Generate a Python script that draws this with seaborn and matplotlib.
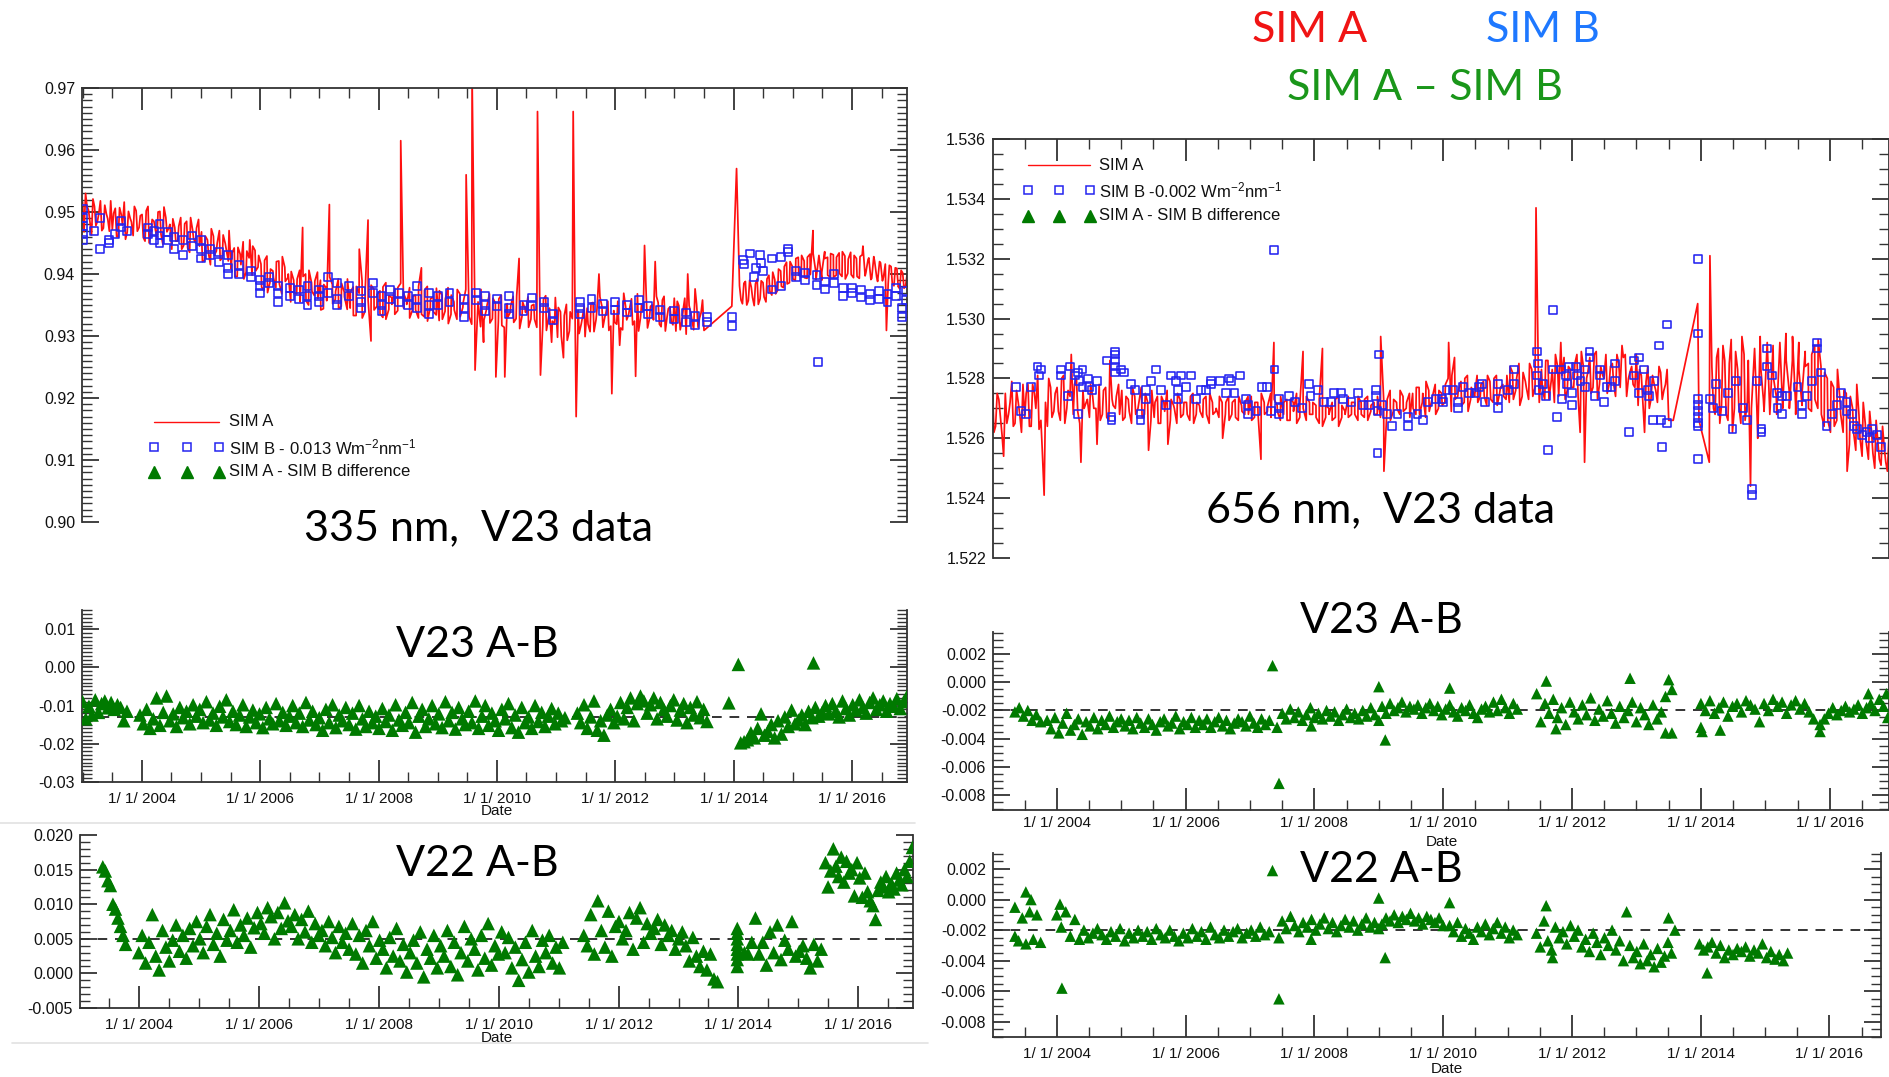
import numpy as np
import matplotlib
matplotlib.use("Agg")
import matplotlib.pyplot as plt
import seaborn as sns
from matplotlib.lines import Line2D
from matplotlib.ticker import MultipleLocator, FixedLocator, FuncFormatter

# ---------------------------------------------------------------- data
YEAR_TICKS = [2004, 2006, 2008, 2010, 2012, 2014, 2016]

# SIM A 335 nm (red line): two interleaved sets of readings per segment
sima_335_seg1 = [  # 2003.00 - 2013.50
    .9516, .9530, .9503, .9463, .9509, .9485, .9518, .9474, .9497, .9469,
    .9472, .9506, .9460, .9496, .9516, .9467, .9490, .9462, .9502, .9475,
    .9496, .9453, .9509, .9466, .9485, .9458, .9501, .9448, .9491, .9474,
    .9440, .9475, .9453, .9491, .9446, .9485, .9435, .9471, .9450, .9488,
    .9468, .9422, .9455, .9415, .9461, .9437, .9470, .9426, .9449, .9421,
    .9408, .9442, .9396, .9432, .9452, .9403, .9426, .9398, .9438, .9411,
    .9416, .9373, .9429, .9386, .9405, .9378, .9421, .9368, .9411, .9394,
    .9355, .9390, .9368, .9406, .9475, .9400, .9350, .9386, .9365, .9403,
    .9390, .9344, .9377, .9512, .9383, .9359, .9392, .9348, .9371, .9343,
    .9345, .9379, .9333, .9369, .9389, .9340, .9487, .9292, .9375, .9348,
    .9373, .9330, .9386, .9343, .9362, .9335, .9378, .9615, .9368, .9351,
    .9329, .9364, .9342, .9380, .9335, .9374, .9324, .9360, .9339, .9377,
    .9373, .9327, .9360, .9320, .9366, .9342, .9375, .9331, .9354, .9560,
    .9331, .9720, .9245, .9355, .9375, .9326, .9349, .9321, .9361, .9234,
    .9360, .9317, .9234, .9330, .9349, .9322, .9365, .9312, .9355, .9338,
    .9314, .9349, .9327, .9662, .9237, .9359, .9309, .9345, .9324, .9362,
    .9346, .9300, .9333, .9293, .9339, .9662, .9170, .9304, .9327, .9299,
    .9319, .9353, .9307, .9343, .9363, .9314, .9337, .9309, .9207, .9322,
    .9356, .9313, .9369, .9326, .9345, .9318, .9235, .9308, .9351, .9446,
    .9313, .9348, .9326, .9364, .9319, .9358, .9308, .9344, .9323, .9361,
    .9356, .9310, .9343, .9303, .9349, .9325, .9376, .9314, .9337, .9309,
]
sima_335_seg1b = [  # 2003.025 - 2013.475 (interleaved readings)
    .9468, .9509, .9483, .9521, .9478, .9498, .9470, .9511, .9489, .9518,
    .9498, .9460, .9507, .9479, .9456, .9501, .9484, .9509, .9469, .9494,
    .9459, .9502, .9450, .9488, .9474, .9500, .9464, .9508, .9468, .9480,
    .9489, .9453, .9477, .9440, .9481, .9442, .9491, .9457, .9474, .9445,
    .9420, .9461, .9435, .9473, .9430, .9450, .9422, .9463, .9441, .9470,
    .9434, .9396, .9443, .9415, .9392, .9437, .9455, .9445, .9405, .9430,
    .9379, .9422, .9370, .9408, .9394, .9420, .9384, .9428, .9388, .9400,
    .9404, .9368, .9392, .9355, .9396, .9357, .9406, .9372, .9389, .9360,
    .9342, .9383, .9357, .9395, .9352, .9372, .9344, .9385, .9363, .9392,
    .9371, .9333, .9380, .9440, .9329, .9374, .9357, .9382, .9342, .9367,
    .9336, .9379, .9327, .9365, .9351, .9377, .9341, .9385, .9345, .9357,
    .9378, .9342, .9366, .9329, .9410, .9331, .9380, .9346, .9363, .9334,
    .9325, .9366, .9340, .9378, .9335, .9355, .9327, .9368, .9346, .9375,
    .9357, .9319, .9366, .9338, .9315, .9290, .9343, .9368, .9328, .9353,
    .9323, .9366, .9314, .9352, .9338, .9364, .9328, .9425, .9332, .9344,
    .9363, .9327, .9351, .9314, .9355, .9316, .9365, .9331, .9290, .9319,
    .9298, .9339, .9265, .9351, .9308, .9328, .9300, .9341, .9319, .9348,
    .9345, .9307, .9354, .9326, .9400, .9348, .9331, .9356, .9316, .9341,
    .9319, .9285, .9310, .9348, .9334, .9360, .9324, .9368, .9328, .9340,
    .9362, .9326, .9350, .9420, .9354, .9315, .9364, .9330, .9347, .9318,
    .9308, .9349, .9323, .9361, .9400, .9338, .9310, .9351, .9329, .9358,
]
sima_335_jump_yr = [2013.97, 2014.05]
sima_335_jump = [0.9348, 0.9570]
sima_335_seg2 = [  # 2014.10 - 2016.93
    .9381, .9352, .9388, .9357, .9379, .9349, .9392, .9360, .9386, .9355,
    .9398, .9366, .9391, .9374, .9405, .9378, .9419, .9386, .9412, .9390,
    .9427, .9396, .9421, .9393, .9432, .9470, .9402, .9428, .9390, .9425,
    .9398, .9433, .9395, .9427, .9401, .9436, .9392, .9424, .9399, .9430,
    .9396, .9428, .9445, .9402, .9426, .9393, .9420, .9388, .9418, .9395,
    .9309, .9414, .9384, .9410, .9380, .9406, .9377, .9398,
]
sima_335_seg2b = [  # 2014.125 - 2016.905
    .9358, .9385, .9350, .9390, .9362, .9384, .9351, .9389, .9363, .9392,
    .9372, .9403, .9368, .9408, .9380, .9412, .9384, .9420, .9392, .9425,
    .9398, .9430, .9394, .9427, .9399, .9433, .9391, .9430, .9403, .9436,
    .9427, .9395, .9431, .9398, .9434, .9396, .9429, .9401, .9435, .9394,
    .9425, .9393, .9431, .9397, .9423, .9391, .9428, .9395, .9420, .9389,
    .9416, .9385, .9412, .9381, .9409, .9376, .9402, .9380,
]

# SIM B 335 nm (blue squares), (year, value)
simb_335 = [
    (2003.00, .9505), (2003.00, .9490), (2003.00, .9478), (2003.00, .9465), (2003.00, .9455),
    (2003.20, .9470), (2003.30, .9490), (2003.30, .9440), (2003.45, .9455), (2003.45, .9450),
    (2003.55, .9465), (2003.65, .9485), (2003.65, .9475), (2003.75, .9470),
    (2004.10, .9475), (2004.10, .9465), (2004.20, .9470), (2004.20, .9455), (2004.30, .9480),
    (2004.30, .9462), (2004.30, .9450), (2004.45, .9468), (2004.45, .9455), (2004.55, .9460),
    (2004.55, .9440), (2004.70, .9455), (2004.70, .9430), (2004.85, .9462), (2004.85, .9445),
    (2005.00, .9455), (2005.00, .9440), (2005.00, .9425), (2005.15, .9440), (2005.15, .9430),
    (2005.30, .9435), (2005.30, .9420), (2005.45, .9430), (2005.45, .9410), (2005.45, .9400),
    (2005.65, .9415), (2005.65, .9400), (2005.85, .9405), (2005.85, .9395),
    (2006.00, .9390), (2006.00, .9380), (2006.00, .9370), (2006.15, .9395), (2006.15, .9385),
    (2006.30, .9380), (2006.30, .9370), (2006.30, .9355), (2006.50, .9378), (2006.50, .9365),
    (2006.65, .9375), (2006.65, .9360), (2006.80, .9380), (2006.80, .9365), (2006.80, .9350),
    (2007.00, .9375), (2007.00, .9365), (2007.00, .9355), (2007.15, .9395), (2007.15, .9370),
    (2007.30, .9385), (2007.30, .9360), (2007.30, .9350), (2007.50, .9380), (2007.50, .9365),
    (2007.70, .9372), (2007.70, .9355), (2007.70, .9345), (2007.90, .9385), (2007.90, .9370),
    (2008.05, .9365), (2008.05, .9350), (2008.05, .9340), (2008.20, .9375), (2008.20, .9360),
    (2008.35, .9370), (2008.35, .9355), (2008.50, .9365), (2008.50, .9350),
    (2008.65, .9380), (2008.65, .9360), (2008.65, .9345), (2008.85, .9370), (2008.85, .9350),
    (2008.85, .9335), (2009.00, .9365), (2009.00, .9350), (2009.20, .9370), (2009.20, .9355),
    (2009.45, .9360), (2009.45, .9345), (2009.45, .9330), (2009.65, .9370), (2009.65, .9358),
    (2009.80, .9365), (2009.80, .9350), (2009.80, .9340), (2010.00, .9360), (2010.00, .9348),
    (2010.20, .9365), (2010.20, .9345), (2010.20, .9335), (2010.45, .9350), (2010.45, .9340),
    (2010.60, .9362), (2010.60, .9348), (2010.80, .9355), (2010.80, .9345), (2010.95, .9335),
    (2010.95, .9325), (2011.40, .9355), (2011.40, .9345), (2011.40, .9335), (2011.60, .9360),
    (2011.60, .9345), (2011.80, .9352), (2011.80, .9340), (2012.00, .9355), (2012.00, .9342),
    (2012.20, .9350), (2012.20, .9338), (2012.40, .9358), (2012.40, .9345), (2012.55, .9348),
    (2012.55, .9335), (2012.75, .9342), (2012.75, .9330), (2013.00, .9340), (2013.00, .9328),
    (2013.20, .9338), (2013.20, .9322), (2013.35, .9332), (2013.35, .9318), (2013.55, .9330),
    (2013.55, .9322), (2013.98, .9330), (2013.98, .9316),
    (2014.16, .9423), (2014.18, .9416), (2014.28, .9433), (2014.35, .9395), (2014.38, .9410),
    (2014.45, .9430), (2014.47, .9418), (2014.50, .9405), (2014.65, .9425), (2014.65, .9375),
    (2014.80, .9428), (2014.80, .9380), (2014.92, .9440), (2014.92, .9435), (2015.05, .9405),
    (2015.05, .9395), (2015.20, .9402), (2015.20, .9390), (2015.42, .9258), (2015.40, .9398),
    (2015.40, .9382), (2015.55, .9388), (2015.55, .9375), (2015.70, .9400), (2015.70, .9385),
    (2015.85, .9365), (2015.85, .9378), (2016.00, .9378), (2016.00, .9370), (2016.15, .9362),
    (2016.15, .9375), (2016.30, .9368), (2016.30, .9358), (2016.45, .9372), (2016.45, .9360),
    (2016.60, .9355), (2016.60, .9368), (2016.75, .9365), (2016.75, .9378), (2016.85, .9330),
    (2016.85, .9345), (2016.92, .9372), (2016.92, .9358),
]

# SIM A 656 nm (red line)
sima_656_seg1 = [  # 2003.00 - 2013.50
    1.5278, 1.5264, 1.5273, 1.5261, 1.5275, 1.5268, 1.5279, 1.5265, 1.5272, 1.5262,
    1.5267, 1.5278, 1.5264, 1.5275, 1.5281, 1.5266, 1.5241, 1.5264, 1.5277, 1.5269,
    1.5277, 1.5266, 1.5281, 1.5270, 1.5274, 1.5268, 1.5280, 1.5265, 1.5276, 1.5272,
    1.5267, 1.5274, 1.5270, 1.5278, 1.5268, 1.5277, 1.5266, 1.5273, 1.5270, 1.5278,
    1.5276, 1.5267, 1.5273, 1.5265, 1.5274, 1.5270, 1.5277, 1.5268, 1.5272, 1.5266,
    1.5267, 1.5274, 1.5265, 1.5272, 1.5276, 1.5266, 1.5271, 1.5265, 1.5273, 1.5268,
    1.5272, 1.5266, 1.5275, 1.5268, 1.5271, 1.5267, 1.5274, 1.5265, 1.5272, 1.5269,
    1.5267, 1.5272, 1.5268, 1.5274, 1.5268, 1.5273, 1.5266, 1.5271, 1.5268, 1.5274,
    1.5274, 1.5267, 1.5272, 1.5253, 1.5272, 1.5269, 1.5275, 1.5292, 1.5271, 1.5266,
    1.5268, 1.5273, 1.5266, 1.5272, 1.5275, 1.5267, 1.5289, 1.5266, 1.5272, 1.5268,
    1.5271, 1.5265, 1.5290, 1.5267, 1.5270, 1.5266, 1.5273, 1.5264, 1.5271, 1.5268,
    1.5267, 1.5272, 1.5268, 1.5274, 1.5268, 1.5273, 1.5266, 1.5271, 1.5268, 1.5274,
    1.5294, 1.5249, 1.5273, 1.5266, 1.5273, 1.5270, 1.5276, 1.5269, 1.5272, 1.5267,
    1.5270, 1.5277, 1.5268, 1.5275, 1.5279, 1.5269, 1.5274, 1.5268, 1.5276, 1.5271,
    1.5278, 1.5292, 1.5281, 1.5273, 1.5276, 1.5271, 1.5280, 1.5269, 1.5277, 1.5274,
    1.5272, 1.5278, 1.5274, 1.5281, 1.5273, 1.5280, 1.5271, 1.5277, 1.5274, 1.5281,
    1.5284, 1.5273, 1.5280, 1.5271, 1.5282, 1.5277, 1.5285, 1.5274, 1.5337, 1.5272,
    1.5276, 1.5286, 1.5273, 1.5283, 1.5288, 1.5274, 1.5281, 1.5273, 1.5284, 1.5277,
    1.5285, 1.5274, 1.5289, 1.5252, 1.5282, 1.5275, 1.5288, 1.5273, 1.5284, 1.5280,
    1.5275, 1.5284, 1.5278, 1.5288, 1.5277, 1.5287, 1.5274, 1.5282, 1.5278, 1.5288,
    1.5283, 1.5272, 1.5279, 1.5270, 1.5281, 1.5276, 1.5284, 1.5273, 1.5278, 1.5266,
]
sima_656_seg1b = [  # 2003.025 - 2013.475 (interleaved readings)
    1.5262, 1.5275, 1.5267, 1.5254, 1.5265, 1.5272, 1.5264, 1.5276, 1.5268, 1.5278,
    1.5275, 1.5264, 1.5278, 1.5270, 1.5263, 1.5256, 1.5272, 1.5280, 1.5267, 1.5275,
    1.5269, 1.5280, 1.5265, 1.5276, 1.5288, 1.5278, 1.5269, 1.5252, 1.5270, 1.5273,
    1.5278, 1.5270, 1.5258, 1.5266, 1.5276, 1.5267, 1.5286, 1.5271, 1.5274, 1.5268,
    1.5266, 1.5274, 1.5269, 1.5277, 1.5268, 1.5272, 1.5267, 1.5275, 1.5256, 1.5276,
    1.5272, 1.5265, 1.5274, 1.5269, 1.5258, 1.5273, 1.5270, 1.5275, 1.5267, 1.5272,
    1.5268, 1.5274, 1.5265, 1.5272, 1.5269, 1.5273, 1.5268, 1.5275, 1.5268, 1.5270,
    1.5274, 1.5260, 1.5272, 1.5266, 1.5272, 1.5267, 1.5274, 1.5269, 1.5272, 1.5268,
    1.5266, 1.5272, 1.5268, 1.5275, 1.5268, 1.5271, 1.5267, 1.5273, 1.5269, 1.5274,
    1.5272, 1.5266, 1.5273, 1.5269, 1.5265, 1.5272, 1.5270, 1.5274, 1.5268, 1.5272,
    1.5267, 1.5273, 1.5264, 1.5271, 1.5268, 1.5272, 1.5267, 1.5274, 1.5267, 1.5269,
    1.5274, 1.5268, 1.5272, 1.5266, 1.5272, 1.5267, 1.5274, 1.5269, 1.5272, 1.5268,
    1.5267, 1.5273, 1.5269, 1.5276, 1.5269, 1.5272, 1.5268, 1.5274, 1.5270, 1.5275,
    1.5275, 1.5268, 1.5277, 1.5272, 1.5267, 1.5276, 1.5273, 1.5278, 1.5270, 1.5275,
    1.5272, 1.5280, 1.5269, 1.5287, 1.5274, 1.5279, 1.5272, 1.5281, 1.5273, 1.5275,
    1.5281, 1.5274, 1.5279, 1.5271, 1.5279, 1.5272, 1.5281, 1.5275, 1.5278, 1.5273,
    1.5272, 1.5282, 1.5276, 1.5285, 1.5274, 1.5279, 1.5273, 1.5283, 1.5277, 1.5284,
    1.5283, 1.5273, 1.5286, 1.5279, 1.5272, 1.5284, 1.5292, 1.5287, 1.5276, 1.5283,
    1.5277, 1.5288, 1.5262, 1.5284, 1.5280, 1.5287, 1.5277, 1.5289, 1.5278, 1.5281,
    1.5288, 1.5278, 1.5285, 1.5274, 1.5285, 1.5291, 1.5288, 1.5280, 1.5284, 1.5277,
    1.5271, 1.5281, 1.5262, 1.5284, 1.5273, 1.5278, 1.5272, 1.5282, 1.5276, 1.5283,
]
sima_656_jump_yr = [2013.57, 2013.95, 2013.97, 2014.13, 2014.14]
sima_656_jump = [1.5266, 1.5305, 1.5266, 1.5252, 1.5321]
sima_656_seg2 = [  # 2014.17 - 2016.92
    1.5284, 1.5268, 1.5290, 1.5271, 1.5286, 1.5266, 1.5293, 1.5270, 1.5283, 1.5265,
    1.5288, 1.5272, 1.5244, 1.5285, 1.5269, 1.5294, 1.5273, 1.5287, 1.5268, 1.5291,
    1.5274, 1.5289, 1.5270, 1.5295, 1.5276, 1.5286, 1.5271, 1.5292, 1.5275, 1.5284,
    1.5270, 1.5288, 1.5273, 1.5293, 1.5268, 1.5282, 1.5266, 1.5279, 1.5264, 1.5283,
    1.5268, 1.5276, 1.5249, 1.5274, 1.5262, 1.5278, 1.5260, 1.5272, 1.5258, 1.5269,
    1.5255, 1.5266, 1.5253, 1.5264, 1.5252, 1.5261,
]
sima_656_seg2b = [  # 2014.195 - 2016.895
    1.5270, 1.5287, 1.5265, 1.5291, 1.5268, 1.5285, 1.5262, 1.5289, 1.5271, 1.5294,
    1.5266, 1.5286, 1.5270, 1.5290, 1.5260, 1.5283, 1.5269, 1.5292, 1.5272, 1.5280,
    1.5268, 1.5292, 1.5273, 1.5286, 1.5270, 1.5294, 1.5268, 1.5283, 1.5271, 1.5289,
    1.5285, 1.5269, 1.5291, 1.5270, 1.5284, 1.5264, 1.5280, 1.5262, 1.5277, 1.5266,
    1.5273, 1.5262, 1.5275, 1.5258, 1.5270, 1.5256, 1.5268, 1.5254, 1.5265, 1.5253,
    1.5262, 1.5250, 1.5259, 1.5251, 1.5257, 1.5249,
]

# SIM B 656 nm (blue squares)
simb_656 = [
    (2003.37, 1.5277), (2003.45, 1.5269), (2003.52, 1.5268), (2003.60, 1.5277), (2003.70, 1.5284),
    (2003.72, 1.5281), (2003.75, 1.5283), (2004.07, 1.5283), (2004.07, 1.5281), (2004.20, 1.5284),
    (2004.18, 1.5274), (2004.28, 1.5281), (2004.33, 1.5282), (2004.35, 1.5279), (2004.40, 1.5283),
    (2004.40, 1.5277), (2004.48, 1.5280), (2004.50, 1.5277), (2004.55, 1.5276), (2004.63, 1.5279),
    (2004.33, 1.5268), (2004.78, 1.5286), (2004.90, 1.5289), (2004.90, 1.5288), (2004.90, 1.5286),
    (2004.90, 1.5284), (2004.90, 1.5282), (2005.00, 1.5283), (2005.05, 1.5282), (2005.15, 1.5278),
    (2004.85, 1.5267), (2004.85, 1.5266), (2005.22, 1.5276), (2005.30, 1.5268), (2005.30, 1.5266),
    (2005.38, 1.5276), (2005.38, 1.5273), (2005.46, 1.5279), (2005.54, 1.5283), (2005.62, 1.5276),
    (2005.70, 1.5271), (2005.77, 1.5281), (2005.93, 1.5281), (2006.08, 1.5281), (2005.85, 1.5279),
    (2005.88, 1.5276), (2005.88, 1.5273), (2006.00, 1.5277), (2006.16, 1.5273), (2006.24, 1.5276),
    (2006.32, 1.5276), (2006.40, 1.5279), (2006.40, 1.5278), (2006.53, 1.5279), (2006.63, 1.5275),
    (2006.68, 1.5280), (2006.71, 1.5279), (2006.84, 1.5281), (2006.76, 1.5275), (2006.94, 1.5273),
    (2006.97, 1.5271), (2006.97, 1.5268), (2007.10, 1.5269), (2007.18, 1.5277), (2007.26, 1.5277),
    (2007.33, 1.5269), (2007.37, 1.5323), (2007.38, 1.5283), (2007.45, 1.5273), (2007.45, 1.5270),
    (2007.45, 1.5268), (2007.60, 1.5274), (2007.70, 1.5272), (2007.81, 1.5270), (2007.92, 1.5278),
    (2007.94, 1.5274), (2008.05, 1.5276), (2008.15, 1.5272), (2008.26, 1.5272), (2008.31, 1.5275),
    (2008.41, 1.5275), (2008.44, 1.5273), (2008.57, 1.5272), (2008.67, 1.5275), (2008.75, 1.5271),
    (2008.85, 1.5271), (2008.95, 1.5276), (2008.95, 1.5274), (2008.98, 1.5269), (2009.00, 1.5288),
    (2009.05, 1.5271), (2008.98, 1.5255), (2009.13, 1.5268), (2009.20, 1.5264), (2009.29, 1.5268),
    (2009.45, 1.5267), (2009.45, 1.5264), (2009.60, 1.5268), (2009.68, 1.5266), (2009.76, 1.5272),
    (2009.89, 1.5273), (2009.98, 1.5273), (2010.00, 1.5272), (2010.05, 1.5276), (2010.15, 1.5276),
    (2010.23, 1.5272), (2010.23, 1.5270), (2010.30, 1.5277), (2010.40, 1.5275), (2010.50, 1.5275),
    (2010.55, 1.5277), (2010.60, 1.5278), (2010.65, 1.5272), (2010.85, 1.5278), (2010.85, 1.5273),
    (2010.85, 1.5270), (2011.00, 1.5276), (2011.10, 1.5283), (2011.10, 1.5278), (2011.45, 1.5289),
    (2011.47, 1.5285), (2011.45, 1.5281), (2011.48, 1.5276), (2011.55, 1.5278), (2011.60, 1.5274),
    (2011.62, 1.5256), (2011.70, 1.5303), (2011.70, 1.5283), (2011.77, 1.5267), (2011.83, 1.5283),
    (2011.85, 1.5273), (2011.90, 1.5281), (2011.92, 1.5278), (2011.95, 1.5284), (2012.00, 1.5275),
    (2012.00, 1.5271), (2012.06, 1.5284), (2012.08, 1.5281), (2012.13, 1.5279), (2012.20, 1.5283),
    (2012.20, 1.5277), (2012.27, 1.5289), (2012.27, 1.5287), (2012.35, 1.5274), (2012.43, 1.5283),
    (2012.43, 1.5281), (2012.50, 1.5272), (2012.54, 1.5277), (2012.60, 1.5277), (2012.67, 1.5285),
    (2012.67, 1.5279), (2012.88, 1.5262), (2012.96, 1.5286), (2012.96, 1.5281), (2013.04, 1.5287),
    (2013.04, 1.5275), (2013.12, 1.5283), (2013.17, 1.5276), (2013.20, 1.5274), (2013.27, 1.5279),
    (2013.26, 1.5266), (2013.35, 1.5291), (2013.38, 1.5266), (2013.39, 1.5257), (2013.47, 1.5298),
    (2013.47, 1.5265), (2013.96, 1.5320), (2013.96, 1.5295), (2013.96, 1.5273), (2013.96, 1.5271),
    (2013.96, 1.5269), (2013.96, 1.5267), (2013.96, 1.5265), (2013.96, 1.5264), (2013.96, 1.5253),
    (2014.14, 1.5273), (2014.19, 1.5270), (2014.24, 1.5278), (2014.33, 1.5269), (2014.42, 1.5275),
    (2014.49, 1.5263), (2014.55, 1.5279), (2014.65, 1.5270), (2014.72, 1.5266), (2014.79, 1.5243),
    (2014.79, 1.5241), (2014.87, 1.5279), (2014.94, 1.5263), (2014.94, 1.5262), (2015.03, 1.5290),
    (2015.03, 1.5284), (2015.10, 1.5281), (2015.18, 1.5275), (2015.19, 1.5270), (2015.26, 1.5274),
    (2015.26, 1.5268), (2015.34, 1.5274), (2015.50, 1.5277), (2015.57, 1.5271), (2015.57, 1.5268),
    (2015.65, 1.5274), (2015.72, 1.5279), (2015.80, 1.5292), (2015.80, 1.5290), (2015.87, 1.5282),
    (2015.95, 1.5264), (2016.03, 1.5268), (2016.11, 1.5271), (2016.18, 1.5275), (2016.26, 1.5272),
    (2016.26, 1.5269), (2016.35, 1.5268), (2016.37, 1.5264), (2016.42, 1.5263), (2016.50, 1.5261),
    (2016.58, 1.5262), (2016.62, 1.5260), (2016.66, 1.5263), (2016.73, 1.5261), (2016.80, 1.5257),
]

# V23 A-B, 335 nm (green triangles) - segments with start/end years
v23_335_a = [-0.0090, -0.0135, -0.0102, -0.0125, -0.0085, -0.0118, -0.0095, -0.0088,
             -0.0106, -0.0092, -0.0110, -0.0098, -0.0105, -0.0140, -0.0115]          # 2003.00-2003.75
v23_335_b = [-0.0125, -0.0148, -0.0110, -0.0160, -0.0135, -0.0080, -0.0152, -0.0118, -0.0075,
             -0.0140, -0.0122, -0.0155, -0.0105, -0.0132, -0.0115, -0.0148, -0.0098, -0.0128,
             -0.0110, -0.0145, -0.0090, -0.0138, -0.0120, -0.0152, -0.0102, -0.0130, -0.0085,
             -0.0142, -0.0115, -0.0150, -0.0125, -0.0098, -0.0155, -0.0130, -0.0112, -0.0145,
             -0.0122, -0.0158, -0.0105, -0.0135, -0.0148, -0.0095, -0.0140, -0.0118, -0.0152,
             -0.0128, -0.0100, -0.0145, -0.0120, -0.0155, -0.0092, -0.0138, -0.0115, -0.0150,
             -0.0132, -0.0165, -0.0110, -0.0145, -0.0098, -0.0158, -0.0125, -0.0140, -0.0105,
             -0.0150, -0.0120, -0.0162, -0.0100, -0.0135, -0.0155, -0.0115, -0.0145, -0.0128,
             -0.0160, -0.0108, -0.0142, -0.0125, -0.0165, -0.0098, -0.0138, -0.0152, -0.0118,
             -0.0145, -0.0092, -0.0170, -0.0128, -0.0110, -0.0155, -0.0135, -0.0100, -0.0148,
             -0.0122, -0.0158, -0.0090, -0.0140, -0.0118, -0.0162, -0.0105, -0.0135, -0.0150,
             -0.0115, -0.0145, -0.0088, -0.0160, -0.0128, -0.0100, -0.0152, -0.0120, -0.0140,
             -0.0165, -0.0110, -0.0135, -0.0095, -0.0158, -0.0125, -0.0170, -0.0105, -0.0145,
             -0.0130, -0.0160, -0.0100, -0.0142, -0.0118, -0.0155, -0.0128, -0.0108, -0.0148,
             -0.0120, -0.0140, -0.0132]                                               # 2003.97-2011.15
v23_335_c = [-0.0120, -0.0145, -0.0098, -0.0160, -0.0130, -0.0088, -0.0165, -0.0140, -0.0178, -0.0125,
             -0.0110, -0.0145, -0.0128, -0.0092, -0.0135, -0.0105, -0.0080, -0.0140, -0.0095, -0.0075,
             -0.0088, -0.0120, -0.0098, -0.0080, -0.0135, -0.0092, -0.0110, -0.0128, -0.0100, -0.0085,
             -0.0138, -0.0112, -0.0095, -0.0145, -0.0105, -0.0125, -0.0090, -0.0132, -0.0110, -0.0142]  # 2011.36-2013.55
v23_335_d = [-0.0198, -0.0195, -0.0190, -0.0172, -0.0185, -0.0160, -0.0122, -0.0178,
             -0.0168, -0.0150, -0.0185, -0.0140, -0.0175, -0.0130, -0.0155, -0.0112, -0.0148,
             -0.0138, -0.0125, -0.0150, -0.0115, -0.0132, -0.0105, -0.0128, -0.0118, -0.0100,
             -0.0122, -0.0095, -0.0115, -0.0130, -0.0088, -0.0108, -0.0125, -0.0098, -0.0112,
             -0.0085, -0.0105, -0.0120, -0.0092, -0.0080, -0.0110, -0.0098, -0.0088, -0.0115,
             -0.0095, -0.0102, -0.0082, -0.0108, -0.0090, -0.0075]                    # 2014.12-2016.93
v23_335_single = [(2013.92, -0.0093), (2014.08, 0.0008), (2015.35, 0.0012)]

# V22 A-B, 335 nm
v22_335_a = [0.0154, 0.0148, 0.0134, 0.0127, 0.0100, 0.0093, 0.0080, 0.0068, 0.0055, 0.0042]  # 2003.40-2003.78
v22_335_b = [0.0030, 0.0055, 0.0015, 0.0045, 0.0085, 0.0025, 0.0005, 0.0062, 0.0038,
             0.0018, 0.0048, 0.0070, 0.0032, 0.0055, 0.0022, 0.0065, 0.0040, 0.0075,
             0.0050, 0.0030, 0.0068, 0.0085, 0.0042, 0.0058, 0.0025, 0.0078, 0.0048,
             0.0062, 0.0092, 0.0045, 0.0070, 0.0055, 0.0080, 0.0038, 0.0066, 0.0088,
             0.0072, 0.0058, 0.0095, 0.0082, 0.0050, 0.0088, 0.0065, 0.0102, 0.0076,
             0.0068, 0.0085, 0.0050, 0.0078, 0.0060, 0.0090, 0.0045, 0.0072, 0.0055,
             0.0062, 0.0040, 0.0075, 0.0052, 0.0030, 0.0068, 0.0045, 0.0058, 0.0035,
             0.0072, 0.0028, 0.0055, 0.0015, 0.0062, 0.0040, 0.0075, 0.0022, 0.0048,
             0.0035, 0.0008, 0.0052, 0.0025, 0.0065, 0.0018, 0.0042, 0.0002, 0.0030,
             0.0048, 0.0015, 0.0060, -0.0005, 0.0035, 0.0022, 0.0055, 0.0008, 0.0040,
             0.0025, 0.0062, 0.0010, 0.0045, -0.0002, 0.0030, 0.0068, 0.0018, 0.0050,
             0.0035, 0.0005, 0.0055, 0.0022, 0.0072, 0.0012, 0.0040, 0.0028, 0.0060,
             0.0030, 0.0052, 0.0008, 0.0038, -0.0010, 0.0020, 0.0045, 0.0002, 0.0062,
             0.0025, 0.0010, 0.0048, 0.0030, 0.0055, 0.0015, 0.0038, 0.0008, 0.0045]  # 2004.00-2011.07
v22_335_c = [0.0055, 0.0040, 0.0085, 0.0028, 0.0105, 0.0062, 0.0038, 0.0090, 0.0025, 0.0068,
             0.0075, 0.0050, 0.0062, 0.0088, 0.0035, 0.0080, 0.0095, 0.0045, 0.0072, 0.0058,
             0.0065, 0.0078, 0.0042, 0.0070, 0.0055, 0.0062, 0.0035, 0.0050, 0.0060,
             0.0040, 0.0018, 0.0052, 0.0025, 0.0010, 0.0032, 0.0005, 0.0028, -0.0008, -0.0012]  # 2011.42-2013.65
v22_335_stack = [0.0065, 0.0058, 0.0050, 0.0042, 0.0035, 0.0028, 0.0020, 0.0010]  # at 2013.98
v22_335_d = [0.0030, 0.0028, 0.0045, 0.0080, 0.0028, 0.0045, 0.0012, 0.0060, 0.0030, 0.0070,
             0.0020, 0.0048, 0.0035, 0.0075, 0.0025, 0.0032, 0.0040, 0.0022, 0.0008, 0.0042,
             0.0018, 0.0035]                                                             # 2014.10-2015.38
v22_335_e = [0.0160, 0.0125, 0.0148, 0.0180, 0.0155, 0.0140, 0.0168, 0.0132, 0.0162, 0.0145,
             0.0150, 0.0112, 0.0160, 0.0138, 0.0110, 0.0145, 0.0118, 0.0105, 0.0098, 0.0078,
             0.0120, 0.0132, 0.0125, 0.0140, 0.0118, 0.0130, 0.0122, 0.0145, 0.0135, 0.0128,
             0.0150, 0.0140, 0.0162, 0.0182]                                             # 2015.45-2016.90

# V23 A-B, 656 nm
v23_656_a = [-0.0021, -0.0018, -0.0024, -0.0020, -0.0027, -0.0023, -0.0028]   # 2003.35-2003.75
v23_656_b = [-0.0027, -0.0033, -0.0025, -0.0036, -0.0029, -0.0022, -0.0034, -0.0030, -0.0026, -0.0037,
             -0.0028, -0.0031, -0.0025, -0.0033, -0.0027, -0.0030, -0.0024, -0.0032, -0.0028, -0.0026,
             -0.0031, -0.0027, -0.0033, -0.0025, -0.0029, -0.0032, -0.0026, -0.0030, -0.0034, -0.0028,
             -0.0026, -0.0031, -0.0029, -0.0024, -0.0033, -0.0028, -0.0030, -0.0025, -0.0032, -0.0027,
             -0.0030, -0.0026, -0.0032, -0.0028, -0.0025, -0.0031, -0.0027, -0.0033, -0.0029, -0.0026,
             -0.0028, -0.0031, -0.0024, -0.0029, -0.0032, -0.0026, -0.0030, -0.0027]  # 2003.85-2007.30
v23_656_c = [-0.0022, -0.0026, -0.0019, -0.0025, -0.0021, -0.0027, -0.0023, -0.0018, -0.0025,
             -0.0022, -0.0026, -0.0020, -0.0024, -0.0021, -0.0027, -0.0023, -0.0019, -0.0025,
             -0.0022, -0.0026, -0.0020, -0.0024, -0.0018, -0.0023, -0.0027]               # 2007.50-2009.00
v23_656_d = [-0.0017, -0.0022, -0.0015, -0.0020, -0.0018, -0.0014, -0.0021, -0.0017, -0.0019,
             -0.0016, -0.0022, -0.0018, -0.0015, -0.0020, -0.0017, -0.0023, -0.0019, -0.0016,
             -0.0021, -0.0024, -0.0018, -0.0020, -0.0016, -0.0022, -0.0025, -0.0019, -0.0017,
             -0.0021, -0.0014, -0.0020, -0.0012, -0.0018, -0.0022, -0.0015, -0.0019]      # 2009.05-2011.15
v23_656_e = [-0.0008, -0.0028, -0.0015, -0.0022, -0.0012, -0.0025, -0.0018, -0.0030, -0.0014,
             -0.0021, -0.0026, -0.0016, -0.0023, -0.0011, -0.0027, -0.0019, -0.0024, -0.0013,
             -0.0022, -0.0029, -0.0017, -0.0025, -0.0020, -0.0014, -0.0028, -0.0018, -0.0023,
             -0.0030, -0.0016, -0.0026, -0.0021, -0.0010]                                # 2011.45-2013.45
v23_656_f = [-0.0015, -0.0020, -0.0013, -0.0022, -0.0018, -0.0014, -0.0024, -0.0017, -0.0015,
             -0.0021, -0.0013, -0.0016, -0.0019, -0.0028, -0.0015, -0.0020, -0.0012, -0.0017,
             -0.0014, -0.0022, -0.0016, -0.0013, -0.0019, -0.0015, -0.0021, -0.0026]     # 2014.00-2015.75
v23_656_g = [-0.0030, -0.0026, -0.0022, -0.0018, -0.0023, -0.0020, -0.0017, -0.0021, -0.0019,
             -0.0016, -0.0022, -0.0018, -0.0015, -0.0020, -0.0012, -0.0017, -0.0025]     # 2015.85-2016.90
v23_656_single = [(2007.35, 0.0012), (2007.42, -0.0032), (2007.45, -0.0072), (2007.95, -0.0031),
                  (2009.00, -0.0003), (2009.10, -0.0041), (2010.10, -0.0004), (2011.60, 0.0001),
                  (2011.75, -0.0033), (2012.90, 0.0003), (2013.50, 0.0002), (2013.55, -0.0005),
                  (2013.45, -0.0036), (2013.55, -0.0036), (2014.00, -0.0032), (2014.02, -0.0035),
                  (2014.30, -0.0034), (2015.85, -0.0035), (2016.60, -0.0008), (2016.88, -0.0008)]

# V22 A-B, 656 nm
v22_656_a = [-0.0024, -0.0027, -0.0012, -0.0029, -0.0008, -0.0026, -0.0010, -0.0028]  # 2003.35-2003.75
v22_656_b = [-0.0010, -0.0018, -0.0008, -0.0024, -0.0013, -0.0026, -0.0020, -0.0025, -0.0022, -0.0019,
             -0.0023, -0.0026, -0.0021, -0.0024, -0.0019, -0.0027, -0.0022, -0.0025, -0.0020,
             -0.0024, -0.0021, -0.0026, -0.0019, -0.0023, -0.0025, -0.0020, -0.0024, -0.0027,
             -0.0022, -0.0025, -0.0019, -0.0024, -0.0021, -0.0026, -0.0018, -0.0023, -0.0025, -0.0020,
             -0.0024, -0.0021, -0.0019, -0.0025, -0.0022, -0.0020, -0.0024, -0.0018, -0.0023, -0.0021]  # 2004.00-2007.30
v22_656_c = [-0.0014, -0.0019, -0.0011, -0.0017, -0.0021, -0.0015, -0.0018, -0.0013, -0.0020,
             -0.0016, -0.0012, -0.0019, -0.0015, -0.0021, -0.0017, -0.0013, -0.0018, -0.0014,
             -0.0020, -0.0016, -0.0012, -0.0018, -0.0015, -0.0019]                       # 2007.50-2009.00
v22_656_d = [-0.0016, -0.0012, -0.0014, -0.0010, -0.0015, -0.0011, -0.0013, -0.0009,
             -0.0014, -0.0012, -0.0016, -0.0011, -0.0013, -0.0015, -0.0012, -0.0017]     # 2009.05-2010.00
v22_656_e = [-0.0017, -0.0021, -0.0015, -0.0024, -0.0019, -0.0022, -0.0026, -0.0018, -0.0021,
             -0.0016, -0.0023, -0.0019, -0.0015, -0.0022, -0.0018, -0.0025, -0.0020, -0.0023]  # 2010.10-2011.15
v22_656_f = [-0.0022, -0.0031, -0.0014, -0.0027, -0.0033, -0.0018, -0.0025, -0.0021, -0.0029,
             -0.0017, -0.0024, -0.0020, -0.0031, -0.0026, -0.0034, -0.0022, -0.0028, -0.0036,
             -0.0025, -0.0030, -0.0020, -0.0033, -0.0027, -0.0040]                       # 2011.45-2012.80
v22_656_g = [-0.0030, -0.0038, -0.0034, -0.0042, -0.0029, -0.0040, -0.0036, -0.0044, -0.0032,
             -0.0041, -0.0037, -0.0028, -0.0035, -0.0020]                                # 2012.90-2013.60
v22_656_h = [-0.0029, -0.0033, -0.0031, -0.0028, -0.0035, -0.0030, -0.0038, -0.0033, -0.0036,
             -0.0032, -0.0034, -0.0031, -0.0037, -0.0033, -0.0035, -0.0029, -0.0038, -0.0034,
             -0.0039, -0.0036, -0.0040, -0.0035]                                         # 2013.98-2015.35
v22_656_single = [(2003.35, -0.0005), (2003.52, 0.0005), (2003.60, 0.0000), (2004.05, -0.0003),
                  (2004.08, -0.0058), (2007.35, 0.0019), (2007.45, -0.0065), (2007.45, -0.0025),
                  (2007.95, -0.0026), (2009.00, 0.0001), (2009.10, -0.0038), (2010.10, -0.0002),
                  (2011.60, -0.0004), (2011.70, -0.0038), (2012.85, -0.0008), (2013.50, -0.0012),
                  (2014.10, -0.0048)]

# reference (offset) lines of the difference panels
REF_V23_335, REF_V22_335, REF_V23_656, REF_V22_656 = -0.013, 0.005, -0.002, -0.002

# ---------------------------------------------------------------- helpers
def segments(parts):
    xs, ys = [], []
    for t0, t1, vals in parts:
        xs.append(np.linspace(t0, t1, len(vals)))
        ys.append(np.asarray(vals, dtype=float))
    x, y = np.concatenate(xs), np.concatenate(ys)
    order = np.argsort(x, kind="stable")
    return x[order], y[order]


def singles(pairs):
    a = np.asarray(pairs, dtype=float)
    return a[:, 0], a[:, 1]


RED, BLUE, GREEN = "#ff1010", "#2424f0", "#007a00"
W, H = 1889, 1077

sns.set_theme(style="white")
plt.rcParams["font.family"] = ["Liberation Sans", "DejaVu Sans"]
plt.rcParams["mathtext.default"] = "regular"
plt.rcParams["axes.edgecolor"] = "#333333"
plt.rcParams["axes.linewidth"] = 1.3

fig = plt.figure(figsize=(W / 100, H / 100), dpi=100, facecolor="white")


def add_ax(x0, y0, x1, y1):
    return fig.add_axes([x0 / W, 1 - y1 / H, (x1 - x0) / W, (y1 - y0) / H])


def fig_text(x, y, s, **kw):
    fig.text(x / W, 1 - y / H, s, **kw)


xfmt = FuncFormatter(lambda v, p: f"1/ 1/ {int(round(v))}")


def style(ax, xlim, ylim, ymaj, ymin, yfmt, xside):
    ax.set_xlim(*xlim)
    ax.set_ylim(*ylim)
    ax.set_xlabel("")
    ax.set_ylabel("")
    ax.set_facecolor("white")
    ax.xaxis.set_major_locator(FixedLocator(YEAR_TICKS))
    ax.xaxis.set_minor_locator(MultipleLocator(0.5))
    ax.xaxis.set_major_formatter(xfmt)
    ax.yaxis.set_major_locator(MultipleLocator(ymaj))
    ax.yaxis.set_minor_locator(MultipleLocator(ymin))
    ax.yaxis.set_major_formatter(FuncFormatter(lambda v, p: yfmt.format(round(v, 6) + 0.0)))
    ax.tick_params(axis="y", which="both", direction="in", left=True, right=True,
                   labelleft=True, labelright=False, colors="#333333", labelcolor="#111111",
                   labelsize=11.5, pad=5)
    ax.tick_params(axis="y", which="major", length=12, width=1.3)
    ax.tick_params(axis="y", which="minor", length=7, width=1.0)
    if xside == "top":
        ax.tick_params(axis="x", which="both", direction="in", top=True, bottom=False,
                       labeltop=False, labelbottom=False, colors="#333333")
        ax.spines["bottom"].set_visible(False)
    else:
        ax.tick_params(axis="x", which="both", direction="in", top=False, bottom=True,
                       labeltop=False, labelbottom=True, colors="#333333",
                       labelcolor="#111111", labelsize=11, pad=7)
        ax.spines["top"].set_visible(False)
    ax.tick_params(axis="x", which="major", length=16, width=1.3)
    ax.tick_params(axis="x", which="minor", length=7, width=1.0)
    for s in ax.spines.values():
        s.set_color("#333333")


def legend_block(x0, x1, xt, ys, btext):
    xm = [x0, (x0 + x1) / 2, x1]
    fig.add_artist(Line2D([x0 / W, x1 / W], [1 - ys[0] / H] * 2, color=RED, lw=1.0))
    fig.add_artist(Line2D([x / W for x in xm], [1 - ys[1] / H] * 3, ls="none", marker="s",
                          ms=5.5, mfc="none", mec=BLUE, mew=1.1))
    fig.add_artist(Line2D([x / W for x in xm], [1 - ys[2] / H] * 3, ls="none", marker="^",
                          ms=9, mfc=GREEN, mec=GREEN))
    for y, s in zip(ys, ["SIM A", btext, "SIM A - SIM B difference"]):
        fig_text(xt, y, s, fontsize=12, va="center", ha="left", color="#111111")


def draw_line(ax, x, y):
    sns.lineplot(x=x, y=y, estimator=None, sort=False, color=RED,
                 linewidth=1.25, ax=ax, legend=False)


def draw_squares(ax, pairs):
    x, y = singles(pairs)
    sns.scatterplot(x=x, y=y, marker="s", s=32, facecolor="none", edgecolor=BLUE,
                    linewidth=1.15, ax=ax, legend=False, zorder=3)
    ax.collections[-1].set_facecolor("none")
    ax.collections[-1].set_edgecolor(BLUE)


def draw_tri(ax, x, y, size):
    sns.scatterplot(x=x, y=y, marker="^", s=size, color=GREEN, edgecolor="none",
                    linewidth=0, ax=ax, legend=False, zorder=3)


def ref_line(ax, y):
    ax.axhline(y, color="#333333", lw=1.4, ls=(0, (5, 4)), zorder=2)


# ---------------------------------------------------------------- axes
ax_tl = add_ax(82, 88, 907, 522)
ax_tr = add_ax(993, 139, 1889, 558)
ax_ml = add_ax(82, 610, 907, 782)
ax_mr = add_ax(993, 632, 1889, 810)
ax_bl = add_ax(80, 835, 913, 1008)
ax_br = add_ax(993, 853, 1881, 1037)

# top-left: 335 nm
lx, ly = segments([(2003.00, 2013.50, sima_335_seg1), (2003.025, 2013.475, sima_335_seg1b),
                   (2014.10, 2016.93, sima_335_seg2), (2014.125, 2016.905, sima_335_seg2b)])
jx = np.asarray(sima_335_jump_yr)
cut = np.searchsorted(lx, jx[0])
draw_line(ax_tl, np.concatenate([lx[:cut], jx, lx[cut:]]),
          np.concatenate([ly[:cut], sima_335_jump, ly[cut:]]))
draw_squares(ax_tl, simb_335)
style(ax_tl, (2002.99, 2016.93), (0.90, 0.97), 0.01, 0.001, "{:.2f}", "top")

# top-right: 656 nm
lx, ly = segments([(2003.00, 2013.50, sima_656_seg1), (2003.025, 2013.475, sima_656_seg1b),
                   (2014.17, 2016.92, sima_656_seg2), (2014.195, 2016.895, sima_656_seg2b)])
jx = np.asarray(sima_656_jump_yr)
cut = np.searchsorted(lx, jx[0])
draw_line(ax_tr, np.concatenate([lx[:cut], jx, lx[cut:]]),
          np.concatenate([ly[:cut], sima_656_jump, ly[cut:]]))
draw_squares(ax_tr, simb_656)
style(ax_tr, (2003.01, 2016.92), (1.522, 1.536), 0.002, 0.0005, "{:.3f}", "top")

# middle-left: V23 A-B 335
gx, gy = segments([(2003.00, 2003.75, v23_335_a), (2003.97, 2011.15, v23_335_b),
                   (2011.36, 2013.55, v23_335_c), (2014.12, 2016.93, v23_335_d)])
sx, sy = singles(v23_335_single)
ref_line(ax_ml, REF_V23_335)
draw_tri(ax_ml, np.concatenate([gx, sx]), np.concatenate([gy, sy]), 95)
style(ax_ml, (2002.99, 2016.93), (-0.0301, 0.0151), 0.01, 0.001, "{:.2f}", "bottom")

# bottom-left: V22 A-B 335
gx, gy = segments([(2003.40, 2003.78, v22_335_a), (2004.00, 2011.07, v22_335_b),
                   (2011.42, 2013.65, v22_335_c), (2013.98, 2013.98, v22_335_stack),
                   (2014.10, 2015.38, v22_335_d), (2015.45, 2016.90, v22_335_e)])
ref_line(ax_bl, REF_V22_335)
draw_tri(ax_bl, gx, gy, 95)
style(ax_bl, (2003.02, 2016.91), (-0.005, 0.020), 0.005, 0.001, "{:.3f}", "bottom")

# middle-right: V23 A-B 656
gx, gy = segments([(2003.35, 2003.75, v23_656_a), (2003.85, 2007.30, v23_656_b),
                   (2007.50, 2009.00, v23_656_c), (2009.05, 2011.15, v23_656_d),
                   (2011.45, 2013.45, v23_656_e), (2014.00, 2015.75, v23_656_f),
                   (2015.85, 2016.90, v23_656_g)])
sx, sy = singles(v23_656_single)
ref_line(ax_mr, REF_V23_656)
draw_tri(ax_mr, np.concatenate([gx, sx]), np.concatenate([gy, sy]), 68)
style(ax_mr, (2003.01, 2016.92), (-0.0091, 0.0036), 0.002, 0.0005, "{:.3f}", "bottom")
ax_mr.tick_params(axis="x", pad=4)

# bottom-right: V22 A-B 656
gx, gy = segments([(2003.35, 2003.75, v22_656_a), (2004.00, 2007.30, v22_656_b),
                   (2007.50, 2009.00, v22_656_c), (2009.05, 2010.00, v22_656_d),
                   (2010.10, 2011.15, v22_656_e), (2011.45, 2012.80, v22_656_f),
                   (2012.90, 2013.60, v22_656_g), (2013.98, 2015.35, v22_656_h)])
sx, sy = singles(v22_656_single)
ref_line(ax_br, REF_V22_656)
draw_tri(ax_br, np.concatenate([gx, sx]), np.concatenate([gy, sy]), 68)
style(ax_br, (2003.01, 2016.80), (-0.009, 0.00305), 0.002, 0.0005, "{:.3f}", "bottom")

# ---------------------------------------------------------------- legends & texts
legend_block(154, 219, 229, [422, 447, 472], r"SIM B - 0.013 Wm$^{-2}$nm$^{-1}$")
legend_block(1028, 1090, 1099, [165, 190, 216], r"SIM B -0.002 Wm$^{-2}$nm$^{-1}$")

BIG = ["Lato", "DejaVu Sans"]
fig_text(1310, 42, "SIM A", fontsize=31, color="#f01414", ha="center", va="baseline", family=BIG)
fig_text(1543, 42, "SIM B", fontsize=31, color="#1e78ff", ha="center", va="baseline", family=BIG)
fig_text(1425, 100, "SIM A \u2013 SIM B", fontsize=31, color="#1a961a", ha="center",
         va="baseline", family=BIG)
fig_text(478, 540, "335 nm,  V23 data", fontsize=31, color="black", ha="center",
         va="baseline", family=BIG)
fig_text(1380, 522, "656 nm,  V23 data", fontsize=31, color="black", ha="center",
         va="baseline", family=BIG)
fig_text(477, 657, "V23 A-B", fontsize=31, color="black", ha="center", va="baseline", family=BIG)
fig_text(1381, 633, "V23 A-B", fontsize=31, color="black", ha="center", va="baseline", family=BIG)
fig_text(477, 876, "V22 A-B", fontsize=31, color="black", ha="center", va="baseline", family=BIG)
fig_text(1381, 882, "V22 A-B", fontsize=31, color="black", ha="center", va="baseline", family=BIG)

for (x, y) in [(497, 811), (497, 1038), (1442, 842), (1447, 1069)]:
    fig_text(x, y, "Date", fontsize=11, color="#111111", ha="center", va="center")

fig.add_artist(Line2D([0, 915 / W], [1 - 823 / H] * 2, color="#e2e2e2", lw=1.2))
fig.add_artist(Line2D([12 / W, 928 / W], [1 - 1043 / H] * 2, color="#e2e2e2", lw=1.2))

fig.savefig("out.png", dpi=100, facecolor="white")
